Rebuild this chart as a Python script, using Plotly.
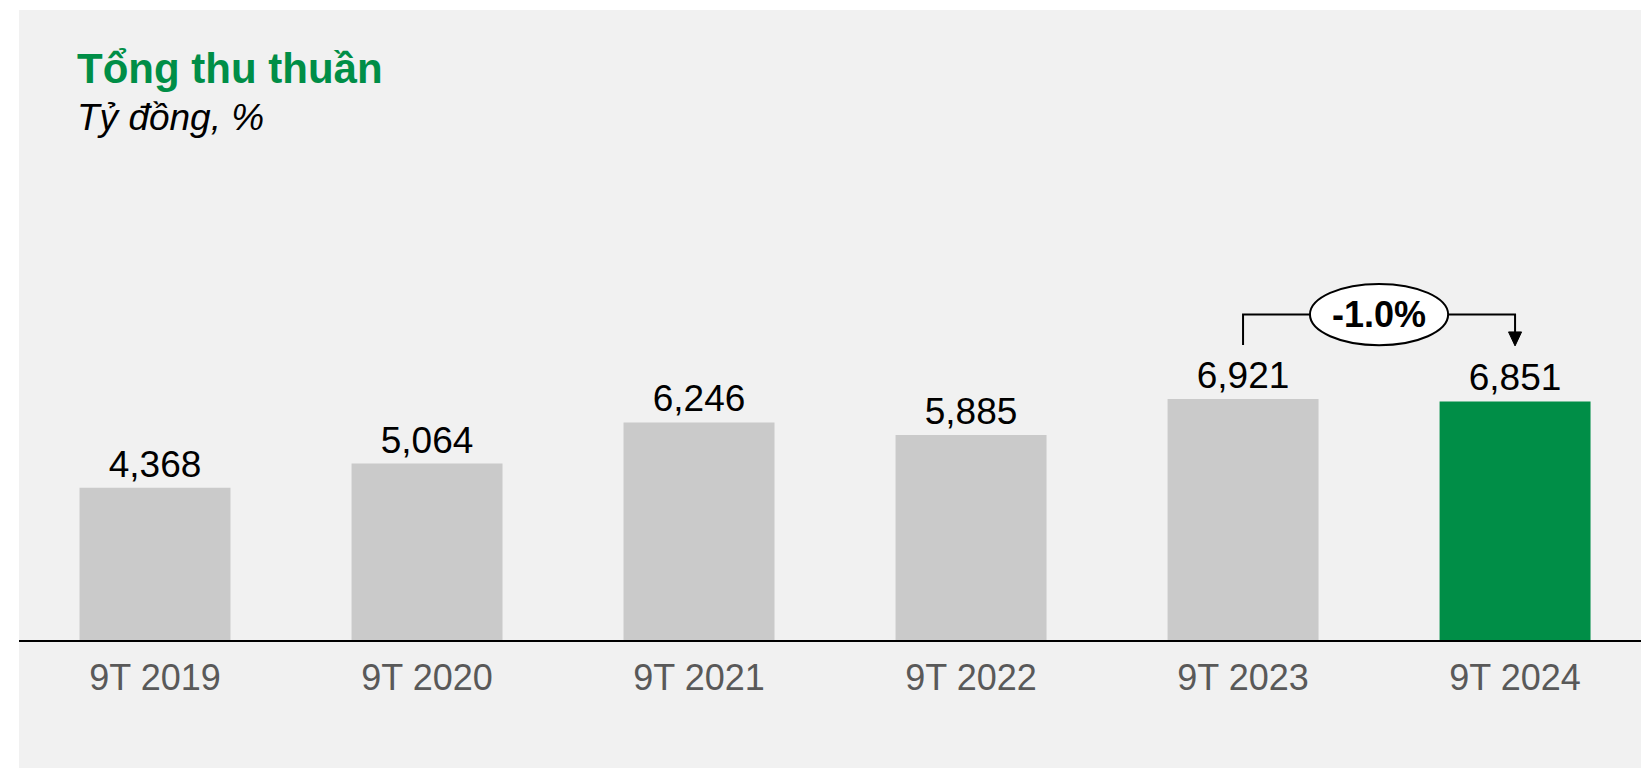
import plotly.graph_objects as go

# Net revenue for the first nine months of each year (billion VND)
periods = ["9T 2019", "9T 2020", "9T 2021", "9T 2022", "9T 2023", "9T 2024"]
revenue = [4368, 5064, 6246, 5885, 6921, 6851]

GREEN = "#008E47"
GREY_BAR = "#CACACA"
PANEL = "#F1F1F1"
FONT = "Liberation Sans, Arial, sans-serif"

W, H = 1641, 768
M_L, M_R, M_T, M_B = 19, 0, 10, 128
Y_MAX = 18088

bar_colors = [GREY_BAR] * (len(revenue) - 1) + [GREEN]
xs = list(range(len(periods)))

fig = go.Figure()
fig.add_trace(go.Bar(
    x=xs,
    y=revenue,
    width=0.555,
    marker=dict(color=bar_colors, line=dict(width=0)),
    texttemplate="%{y:,.0f}",
    textposition="outside",
    textfont=dict(family=FONT, size=37, color="black"),
    cliponaxis=False,
    hoverinfo="skip",
))

# pixel helpers for paper-positioned text
plot_w = W - M_L - M_R
plot_h = H - M_T - M_B


def px_x(p):
    return (p - M_L) / plot_w


def px_y(p):
    return (H - M_B - p) / plot_h


shapes = []
# grey panel behind the whole chart
shapes.append(dict(type="rect", xref="paper", yref="paper",
                   x0=0, x1=1, y0=px_y(H), y1=1,
                   fillcolor=PANEL, line=dict(width=0), layer="below"))

# year-over-year change bracket between the last two bars
prev_v, last_v = revenue[-2], revenue[-1]
change = (last_v / prev_v - 1) * 100
i0, i1 = len(revenue) - 2, len(revenue) - 1
top = max(prev_v, last_v)
level = top * 1.35
stub = top * 1.224
tip = top * 1.22
head = top * 1.278
mid = (i0 + i1) / 2
ell_hw, ell_hh = 0.254, top * 0.127
line_style = dict(color="black", width=2)

shapes.append(dict(type="path", xref="x", yref="y",
                   path=f"M {i0},{stub} L {i0},{level} L {mid - ell_hw},{level}",
                   line=line_style))
shapes.append(dict(type="path", xref="x", yref="y",
                   path=f"M {mid + ell_hw},{level} L {i1},{level} L {i1},{head}",
                   line=line_style))
shapes.append(dict(type="path", xref="x", yref="y",
                   path=f"M {i1 - 0.024},{head} L {i1 + 0.024},{head} L {i1},{tip} Z",
                   fillcolor="black", line=dict(color="black", width=1)))
shapes.append(dict(type="circle", xref="x", yref="y",
                   x0=mid - ell_hw, x1=mid + ell_hw,
                   y0=level - ell_hh, y1=level + ell_hh,
                   fillcolor="white", line=line_style))

annotations = [
    dict(text="<b>Tổng thu thuần</b>", xref="paper", yref="paper",
         x=px_x(75), y=px_y(68.5), xanchor="left", yanchor="middle",
         showarrow=False, font=dict(family=FONT, size=42, color=GREEN)),
    dict(text="<i>Tỷ đồng, %</i>", xref="paper", yref="paper",
         x=px_x(75), y=px_y(117.5), xanchor="left", yanchor="middle",
         showarrow=False, font=dict(family=FONT, size=37, color="black")),
    dict(text=f"<b>{change:.1f}%</b>", xref="x", yref="y",
         x=mid, y=level, xanchor="center", yanchor="middle",
         showarrow=False, font=dict(family=FONT, size=36, color="black")),
]

fig.update_layout(
    width=W, height=H,
    margin=dict(l=M_L, r=M_R, t=M_T, b=M_B, pad=0),
    paper_bgcolor="white",
    plot_bgcolor="rgba(0,0,0,0)",
    showlegend=False,
    shapes=shapes,
    annotations=annotations,
    xaxis=dict(
        range=[-0.5, 5.463],
        tickmode="array", tickvals=xs, ticktext=periods,
        showline=True, linecolor="black", linewidth=2,
        ticks="", showgrid=False, zeroline=False,
        tickfont=dict(family=FONT, size=36, color="#595959"),
        ticklabelstandoff=5,
        fixedrange=True,
    ),
    yaxis=dict(range=[0, Y_MAX], visible=False, fixedrange=True),
)

fig.write_html("out.html", config={"displayModeBar": False})
